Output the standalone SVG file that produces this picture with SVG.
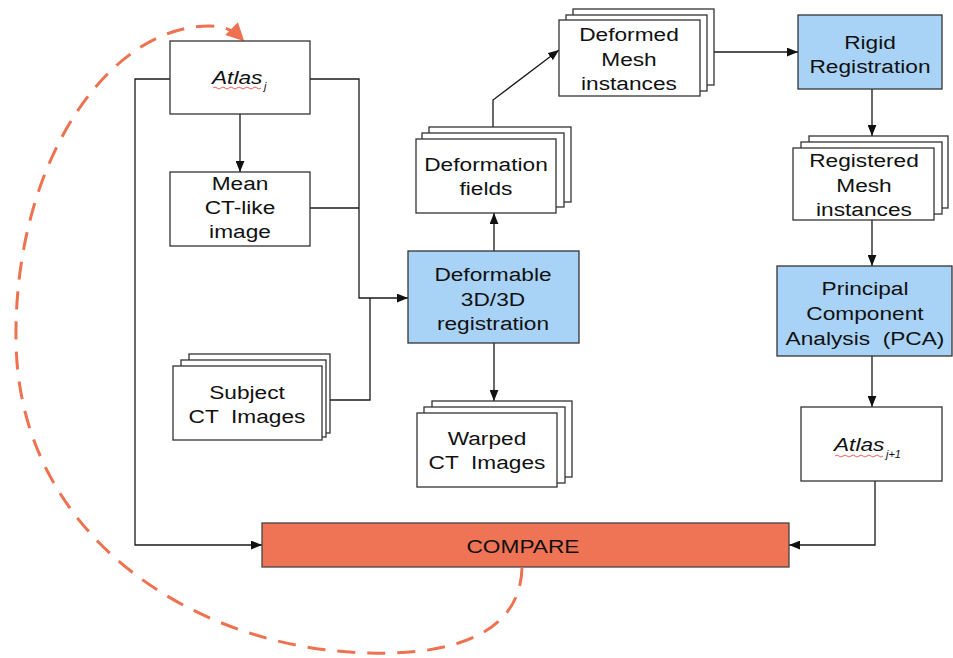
<svg xmlns="http://www.w3.org/2000/svg" width="953" height="658" viewBox="0 0 953 658">
<defs>
<marker id="ah" viewBox="0 0 10 8" refX="10" refY="4" markerWidth="11" markerHeight="9" markerUnits="userSpaceOnUse" orient="auto">
<path d="M0,0 L10,4 L0,8 Z" fill="#111"/>
</marker>
<marker id="oh" viewBox="0 0 10 10" refX="9" refY="5" markerWidth="20" markerHeight="18" markerUnits="userSpaceOnUse" orient="auto">
<path d="M0,0 L10,5 L0,10 Z" fill="#ee7250"/>
</marker>
<style>
.n{fill:#fff;stroke:#333;stroke-width:1.3}
.b{fill:#a9d3f6;stroke:#333;stroke-width:1.3}
.c{fill:#ef7455;stroke:#444;stroke-width:1.3}
.l{fill:none;stroke:#1a1a1a;stroke-width:1.3}
.t{font-family:"Liberation Sans",Arial,sans-serif;font-size:18.6px;fill:#111;text-anchor:middle;white-space:pre;transform-box:fill-box;transform-origin:center;transform:scaleX(1.22)}
.i{font-style:italic}
.s{font-family:"Liberation Sans",Arial,sans-serif;font-size:11px;font-style:italic;fill:#111}
.w{fill:none;stroke:#d83a3a;stroke-width:0.8}
</style>
</defs>
<rect width="953" height="658" fill="#fff"/>

<g id="connectors">
<path class="l" d="M240,114 V172" marker-end="url(#ah)"/>
<path class="l" d="M170,79 H135 V545 H262" marker-end="url(#ah)"/>
<path class="l" d="M310,79 H359 V298 H408" marker-end="url(#ah)"/>
<path class="l" d="M310,208 H359"/>
<path class="l" d="M330,400 H370 V298"/>
<path class="l" d="M494,251 V213" marker-end="url(#ah)"/>
<path class="l" d="M494,343 V401" marker-end="url(#ah)"/>
<path class="l" d="M493,127 V100 L559,50" marker-end="url(#ah)"/>
<path class="l" d="M714,52 H798" marker-end="url(#ah)"/>
<path class="l" d="M872,89 V136" marker-end="url(#ah)"/>
<path class="l" d="M872,220 V266" marker-end="url(#ah)"/>
<path class="l" d="M872,356 V407" marker-end="url(#ah)"/>
<path class="l" d="M875,481 V545 H789" marker-end="url(#ah)"/>
<path d="M522,568 C520,640 440,655 370,653 C200,650 18,540 16,340 C14,160 110,25 210,26 C225,26 234,31 243,40" fill="none" stroke="#ee7250" stroke-width="3" stroke-dasharray="18,12" marker-end="url(#oh)"/>
</g>

<g id="atlas-j">
<rect class="n" x="170" y="41" width="140" height="73"/>
<text class="t i" x="237" y="84">Atlas</text>
<text class="s" x="264" y="90">j</text>
<path class="w" d="M213,88 q2,-2 4,0 t4,0 t4,0 t4,0 t4,0 t4,0 t4,0 t4,0 t4,0 t4,0 t4,0 t4,0"/>
</g>

<g id="mean">
<rect class="n" x="170" y="172" width="140" height="74"/>
<text class="t" x="240" y="190">Mean</text>
<text class="t" x="240" y="214">CT-like</text>
<text class="t" x="240" y="238">image</text>
</g>

<g id="subject">
<rect class="n" x="189" y="354" width="141" height="79"/>
<rect class="n" x="181" y="360" width="145" height="77"/>
<rect class="n" x="173" y="366" width="149" height="74"/>
<text class="t" x="247" y="399">Subject</text>
<text class="t" x="247" y="423">CT  Images</text>
</g>

<g id="deformable">
<rect class="b" x="408" y="251" width="171" height="92"/>
<text class="t" x="493" y="281">Deformable</text>
<text class="t" x="493" y="306">3D/3D</text>
<text class="t" x="493" y="330">registration</text>
</g>

<g id="fields">
<rect class="n" x="429" y="127" width="142" height="75"/>
<rect class="n" x="422" y="133" width="142" height="74"/>
<rect class="n" x="416" y="139" width="140" height="74"/>
<text class="t" x="486" y="171">Deformation</text>
<text class="t" x="486" y="195">fields</text>
</g>

<g id="warped">
<rect class="n" x="432" y="401" width="140" height="76"/>
<rect class="n" x="424" y="407" width="141" height="76"/>
<rect class="n" x="417" y="413" width="140" height="74"/>
<text class="t" x="487" y="445">Warped</text>
<text class="t" x="487" y="469">CT  Images</text>
</g>

<g id="deformed-mesh">
<rect class="n" x="573" y="9" width="141" height="76"/>
<rect class="n" x="566" y="15" width="141" height="76"/>
<rect class="n" x="559" y="20" width="141" height="76"/>
<text class="t" x="629" y="41">Deformed</text>
<text class="t" x="629" y="66">Mesh</text>
<text class="t" x="629" y="90">instances</text>
</g>

<g id="rigid">
<rect class="b" x="798" y="15" width="144" height="74"/>
<text class="t" x="870" y="49">Rigid</text>
<text class="t" x="870" y="73">Registration</text>
</g>

<g id="registered">
<rect class="n" x="809" y="136" width="139" height="72"/>
<rect class="n" x="801" y="142" width="141" height="72"/>
<rect class="n" x="793" y="148" width="141" height="72"/>
<text class="t" x="864" y="167">Registered</text>
<text class="t" x="864" y="192">Mesh</text>
<text class="t" x="864" y="216">instances</text>
</g>

<g id="pca">
<rect class="b" x="777" y="266" width="175" height="90"/>
<text class="t" x="865" y="295">Principal</text>
<text class="t" x="865" y="320">Component</text>
<text class="t" x="865" y="345">Analysis  (PCA)</text>
</g>

<g id="atlas-j1">
<rect class="n" x="801" y="407" width="141" height="74"/>
<text class="t i" x="859" y="451">Atlas</text>
<text class="s" x="886" y="458">j+1</text>
<path class="w" d="M835,456 q2,-2 4,0 t4,0 t4,0 t4,0 t4,0 t4,0 t4,0 t4,0 t4,0 t4,0 t4,0 t4,0"/>
</g>

<g id="compare">
<rect class="c" x="262" y="523" width="527" height="44"/>
<text class="t" x="523" y="553">COMPARE</text>
</g>
</svg>
